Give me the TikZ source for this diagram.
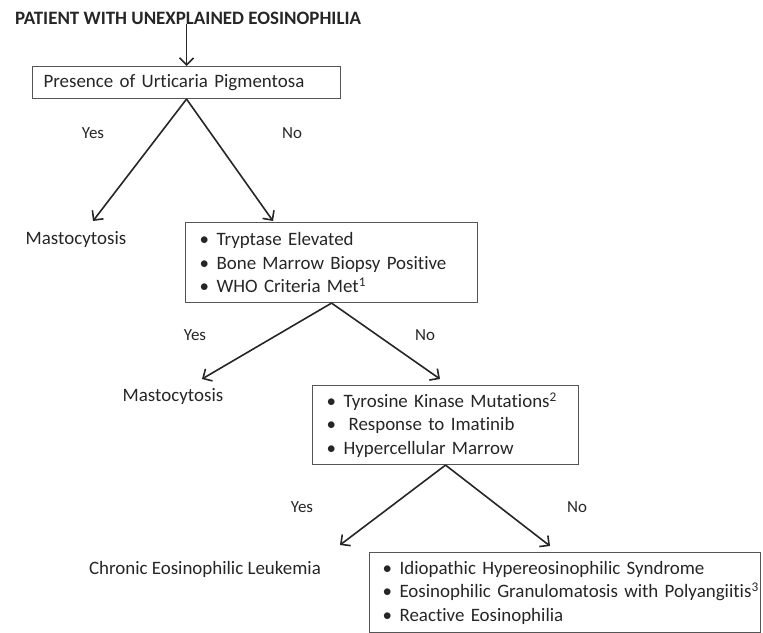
\documentclass[tikz,border=0pt]{standalone}
\usepackage{fontspec}
\setmainfont{Carlito}[Ligatures=NoCommon]
\usetikzlibrary{arrows.meta,positioning}
\definecolor{ink}{RGB}{38,38,38}
\definecolor{frame}{RGB}{85,85,85}
\newcommand{\itm}{\makebox[17bp][l]{\textbullet}}

\begin{document}
\begin{tikzpicture}[x=1bp, y=-1bp, font=\fontsize{19}{23.5}\selectfont, text=ink]
    \tikzstyle{box}=[draw=frame, line width=1.1bp, anchor=north west,
      align=left, inner xsep=14bp, inner ysep=0pt]
    \tikzstyle{result}=[inner sep=0pt]
    \tikzstyle{answer}=[font=\fontsize{17}{20}\selectfont, inner sep=0pt]
    \tikzstyle{arrow}=[-{Straight Barb[length=7bp,width=14bp]}, line width=1.6bp, draw=black!85]

    \useasboundingbox (0,0) rectangle (763,633);

    \node[font=\fontsize{19}{22}\selectfont\bfseries, inner sep=0pt] (patient) at (188,18)
      {PATIENT WITH UNEXPLAINED EOSINOPHILIA};

    \node[box, inner xsep=11bp, text width=286bp, minimum height=32bp] (urticaria) at (32,66)
      {Presence of Urticaria Pigmentosa};

    \node[box, text width=264bp, minimum height=80bp] (tryptase) at (185,222)
      {\itm Tryptase Elevated\\
       \itm Bone Marrow Biopsy Positive\\
       \itm WHO Criteria Met\textsuperscript{1}};

    \node[box, text width=238bp, minimum height=79bp] (kinase) at (312,385)
      {\itm Tyrosine Kinase Mutations\textsuperscript{2}\\
       \itm \hspace{5bp}Response to Imatinib\\
       \itm Hypercellular Marrow};

    \node[box, inner xsep=13bp, text width=365bp, minimum height=80bp] (idiopathic) at (369,552)
      {\itm Idiopathic Hypereosinophilic Syndrome\\
       \mbox{\itm Eosinophilic Granulomatosis with Polyangiitis\textsuperscript{3}}\\
       \itm Reactive Eosinophilia};

    \node[result] (masto1) at (76,240) {Mastocytosis};
    \node[result] (masto2) at (173,397) {Mastocytosis};
    \node[result] (leukemia) at (205,569) {Chronic Eosinophilic Leukemia};

    \node[answer] (yes1) at (93,133) {Yes};
    \node[answer] (no1) at (292,133) {No};
    \node[answer] (yes2) at (195,335) {Yes};
    \node[answer] (no2) at (425,335) {No};
    \node[answer] (yes3) at (302,507) {Yes};
    \node[answer] (no3) at (577,507) {No};

    \coordinate (tipyes1) at (93,221);
    \coordinate (tipno1) at (273,221);
    \coordinate (tipyes2) at (202,379);
    \coordinate (tipno2) at (440,379);
    \coordinate (tipyes3) at (340,545);
    \coordinate (tipno3) at (550,546);

    \draw[arrow] (patient.south -| urticaria.north) -- (urticaria.north);
    \draw[arrow] (urticaria.south) -- (tipyes1);
    \draw[arrow] (urticaria.south) -- (tipno1);
    \draw[arrow] (tryptase.south) -- (tipyes2);
    \draw[arrow] (tryptase.south) -- (tipno2);
    \draw[arrow] (kinase.south) -- (tipyes3);
    \draw[arrow] (kinase.south) -- (tipno3);
  \end{tikzpicture}
\end{document}
